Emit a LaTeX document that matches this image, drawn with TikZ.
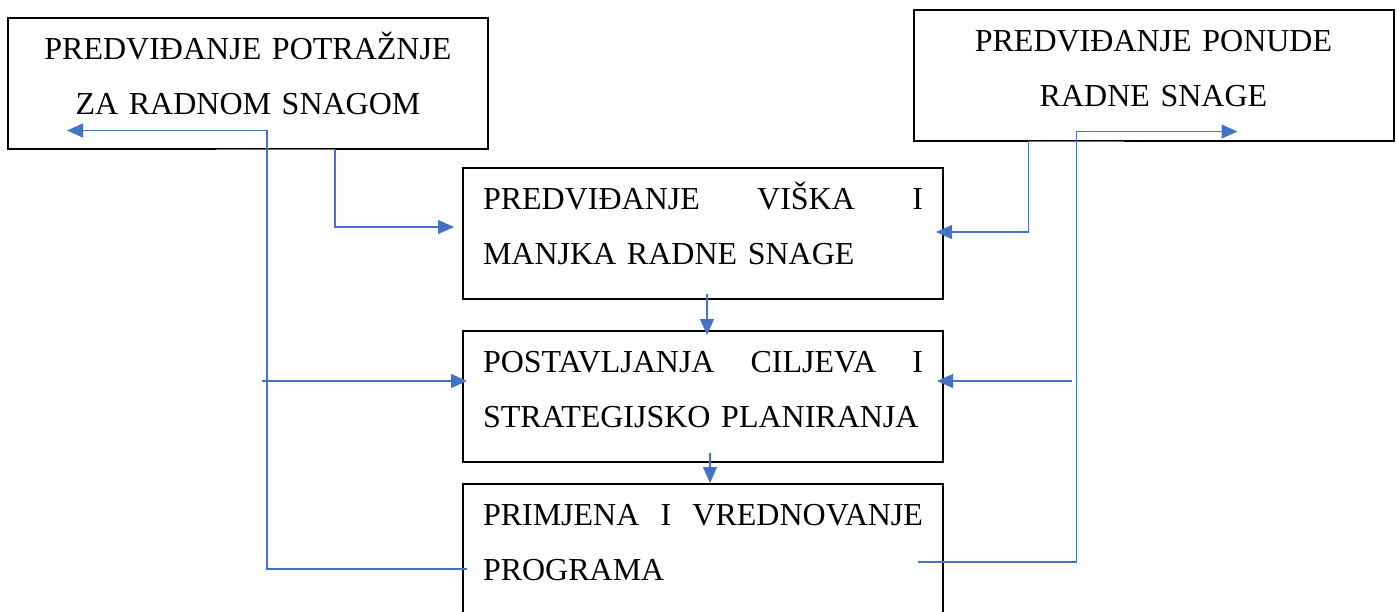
\documentclass[tikz,border=0pt]{standalone}
\usepackage{fontspec}
\setmainfont{Liberation Serif}
\usepackage{xcolor}
\definecolor{linkblue}{RGB}{68, 114, 196}
\usetikzlibrary{arrows.meta, calc}

\begin{document}
\begin{tikzpicture}[
    x=0.5pt, y=-0.5pt,
    box/.style={draw, line width=1pt, minimum width=240pt, minimum height=65.5pt,
      text width=220pt, inner xsep=10pt, text height=8pt, text depth=32pt,
      font=\fontsize{16}{27.5}\selectfont},
    link/.style={draw=linkblue, line width=0.6pt},
    tip/.style={-{Triangle[length=8pt,width=7pt]}}
  ]
  \useasboundingbox (0,0) rectangle (1397,611);
  \node[box, align=center] (potraznja) at (248,83) {PREDVIĐANJE POTRAŽNJE\\ZA RADNOM SNAGOM};
  \node[box, align=center] (ponuda) at (1153.5,75) {PREDVIĐANJE PONUDE\\RADNE SNAGE};
  \node[box, align=left] (viska) at (703,233.5) {PREDVIĐANJE\hfill VIŠKA\hfill I\\MANJKA RADNE SNAGE};
  \node[box, align=left] (ciljevi) at (703,396.5) {POSTAVLJANJA\hfill CILJEVA\hfill I\\STRATEGIJSKO PLANIRANJA};
  \node[box, align=left] (primjena) at (703,549.5) {PRIMJENA\hfill I\hfill VREDNOVANJE\\PROGRAMA};
  \coordinate (lijevo) at (262,381);
  \coordinate (desno) at (1072,381);

  % lijeva strana
  \draw[link, tip] ($(potraznja.south)+(-32,0)$) -- ++(119,0) |- ($(viska.west)+(-8,-6.5)$);
  \draw[link, tip] ($(primjena.west)+(5,19.5)$) -| ($(potraznja.south west)+(260,-19)$)
    -- ($(potraznja.south west)+(60,-19)$);
  \draw[link, tip] (lijevo) -- ($(ciljevi.west)+(5,-15.5)$);
  % desna strana
  \draw[link, tip] ($(ponuda.south)+(-30,0)$) -- ++(-95,0) |- ($(viska.east)+(-8,-1.5)$);
  \draw[link, tip] ($(primjena.east)+(-26,12.5)$) -| ($(ponuda.south west)+(164,-10)$)
    -- ($(ponuda.south west)+(325,-10)$);
  \draw[link, tip] (desno) -- ($(ciljevi.east)+(-7,-15.5)$);
  % sredina
  \draw[link, tip] ($(viska.south)+(4,-6)$) -- ($(ciljevi.north)+(4,5)$);
  \draw[link, tip] ($(ciljevi.south)+(7,-10)$) -- ($(primjena.north)+(7,0)$);
\end{tikzpicture}
\end{document}
